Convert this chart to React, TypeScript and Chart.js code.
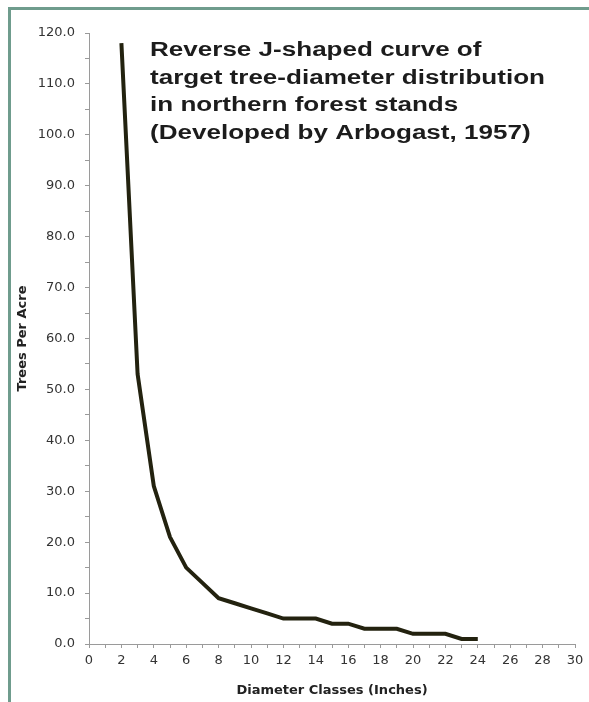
import React, { useEffect, useRef } from "react";
import { Chart, registerables } from "chart.js";

Chart.register(...registerables);

const diameterClasses = [2, 3, 4, 5, 6, 7, 8, 9, 10, 11, 12, 13, 14, 15, 16, 17, 18, 19, 20, 21, 22, 23, 24];
const treesPerAcre = [118, 53, 31, 21, 15, 12, 9, 8, 7, 6, 5, 5, 5, 4, 4, 3, 3, 3, 2, 2, 2, 1, 1];
const titleLines = [
  "Reverse J-shaped curve of",
  "target tree-diameter distribution",
  "in northern forest stands",
  "(Developed by Arbogast, 1957)",
];
const xAxisTitle = "Diameter Classes (Inches)";
const yAxisTitle = "Trees Per Acre";

const inChartTitle = {
  id: "inChartTitle",
  afterDraw(chart: any) {
    const { ctx, chartArea } = chart;
    ctx.save();
    ctx.font = "bold 20px 'Liberation Sans'";
    ctx.fillStyle = "#1c1c1c";
    ctx.textAlign = "left";
    ctx.textBaseline = "alphabetic";
    const widest = ctx.measureText(titleLines[1]).width;
    const sx = 395 / widest;
    const x0 = chartArea.left + 61;
    titleLines.forEach((line, i) => {
      ctx.save();
      ctx.translate(x0, chartArea.top + 23 + i * 27.5);
      ctx.scale(sx, 1);
      ctx.fillText(line, 0, 0);
      ctx.restore();
    });
    ctx.restore();
  },
};

export default function App() {
  const canvasRef = useRef<HTMLCanvasElement | null>(null);

  useEffect(() => {
    if (!canvasRef.current) return;
    const axisGrey = "#9a9a9a";
    const chart = new Chart(canvasRef.current, {
      type: "line",
      data: {
        datasets: [
          {
            data: diameterClasses.map((d, i) => ({ x: d, y: treesPerAcre[i] })),
            borderColor: "#23220f",
            borderWidth: 4,
            pointRadius: 0,
            tension: 0,
            fill: false,
          },
        ],
      },
      plugins: [inChartTitle],
      options: {
        animation: false,
        responsive: true,
        maintainAspectRatio: false,
        layout: { padding: { top: 33, right: 14, left: 0, bottom: 0 } },
        plugins: { legend: { display: false }, tooltip: { enabled: false }, title: { display: false } },
        scales: {
          x: {
            type: "linear",
            min: 0,
            max: 30,
            afterFit: (s: any) => { s.height = 58; },
            ticks: {
              stepSize: 1,
              autoSkip: false,
              maxRotation: 0,
              padding: 5,
              color: "#333333",
              font: { family: "'DejaVu Sans'", size: 13 },
              callback: (v: any) => (Number(v) % 2 === 0 ? String(v) : ""),
            },
            grid: { drawOnChartArea: false, drawTicks: true, tickLength: 4, color: axisGrey },
            border: { display: true, color: axisGrey, width: 1 },
            title: {
              display: true,
              text: xAxisTitle,
              color: "#222222",
              font: { family: "'DejaVu Sans'", size: 13, weight: "bold" },
              padding: { top: 0, bottom: 4 },
            },
          },
          y: {
            type: "linear",
            min: 0,
            max: 120,
            afterFit: (s: any) => { s.width = 89; },
            ticks: {
              stepSize: 5,
              autoSkip: false,
              padding: 10,
              color: "#333333",
              font: { family: "'DejaVu Sans'", size: 13 },
              callback: (v: any) => (Number(v) % 10 === 0 ? Number(v).toFixed(1) : ""),
            },
            grid: { drawOnChartArea: false, drawTicks: true, tickLength: 4, color: axisGrey },
            border: { display: true, color: axisGrey, width: 1 },
            title: {
              display: true,
              text: yAxisTitle,
              color: "#222222",
              font: { family: "'DejaVu Sans'", size: 13, weight: "bold" },
              padding: { top: 15, bottom: 0 },
            },
          },
        },
      },
    });
    return () => chart.destroy();
  }, []);

  return (
    <>
      <div
        style={{
          position: "fixed",
          left: 8,
          top: 7,
          right: 0,
          bottom: 0,
          borderTop: "3px solid #6f9c8d",
          borderLeft: "3px solid #6f9c8d",
          background: "#ffffff",
        }}
      />
      <div style={{ position: "fixed", left: 0, top: 0, width: 589, height: 702 }}>
        <canvas ref={canvasRef} />
      </div>
    </>
  );
}
